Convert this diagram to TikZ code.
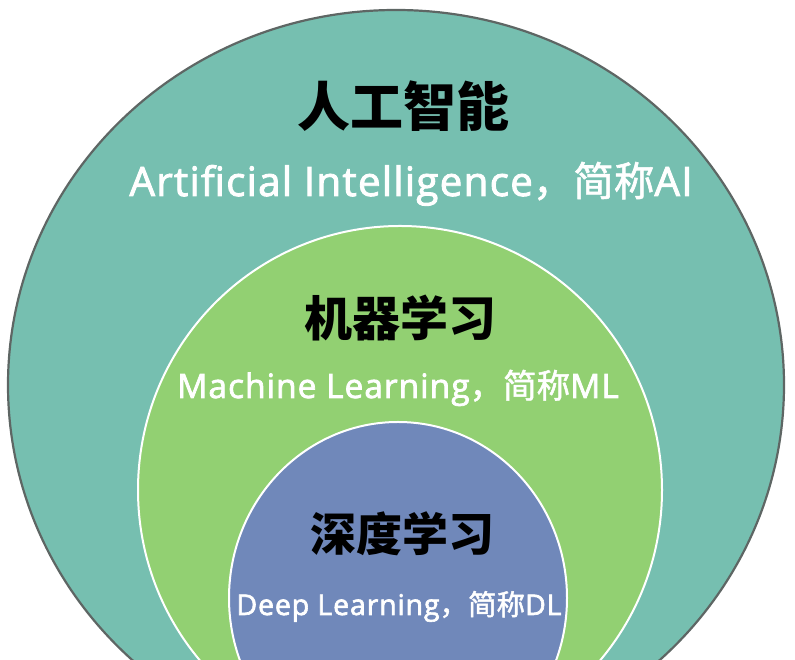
\documentclass[tikz,border=0pt]{standalone}
\usepackage{fontspec}
\setmainfont{Noto Sans CJK SC}
\newfontfamily\latinfont[FakeBold=2.2, LetterSpace=3]{Open Sans}
\newfontfamily\subfont[FakeBold=1.5]{Noto Sans CJK SC}
\definecolor{aiteal}{HTML}{76BFB0}
\definecolor{mlgreen}{HTML}{92D072}
\definecolor{dlblue}{HTML}{7088BA}
\definecolor{rimgray}{HTML}{5E6664}
\newcommand{\lat}[1]{{\latinfont #1}}
\begin{document}
\begin{tikzpicture}[x=1pt, y=1pt,
    title/.style={font=\fontsize{#1}{#1}\selectfont\bfseries, text=black, inner sep=0pt},
    subtitle/.style={font=\fontsize{#1}{#1}\selectfont\subfont, text=white, inner sep=0pt, anchor=base}]
    \useasboundingbox (0,0) rectangle (795,660);
    \clip (0,0) rectangle (795,660);

    % AI
    \fill[aiteal, draw=rimgray, line width=2.2pt] (396,275) ellipse [x radius=388, y radius=375];
    \node[title=53] (aititle) at (403,554) {人工智能};
    \node[subtitle=40.5] (aisub) at (411,464) {\lat{Artificial Intelligence}，简称\lat{AI}};

    % ML
    \fill[mlgreen, draw=white, line width=2pt] (400,170) ellipse [x radius=262, y radius=264];
    \node[title=48] (mltitle) at (400,342) {机器学习};
    \node[subtitle=33.5] (mlsub) at (398,262) {\lat{Machine Learning}，简称\lat{ML}};

    % DL
    \fill[dlblue, draw=white, line width=2pt] (398,62) ellipse [x radius=169, y radius=176];
    \node[title=46] (dltitle) at (402,126) {深度学习};
    \node[subtitle=28.5] (dlsub) at (399,45) {\lat{Deep Learning}，简称\lat{DL}};
\end{tikzpicture}
\end{document}
